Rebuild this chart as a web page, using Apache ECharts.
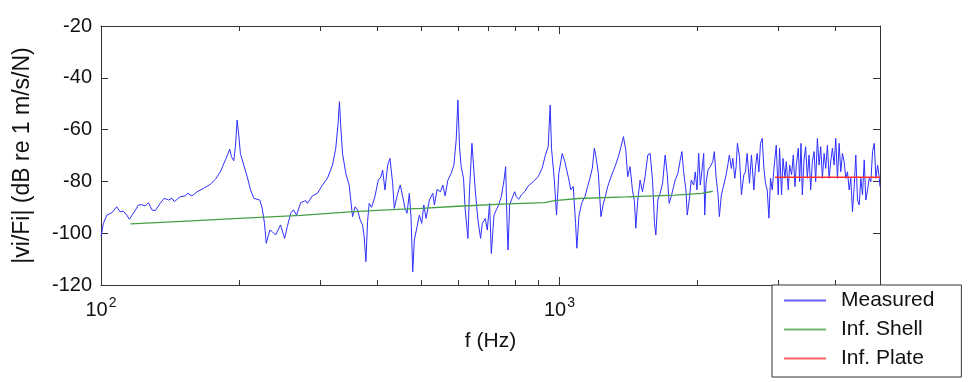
<!DOCTYPE html>
<html><head><meta charset="utf-8">
<script src="https://cdn.jsdelivr.net/npm/echarts@6/dist/echarts.min.js"></script>
<style>html,body{margin:0;padding:0;background:#fff}#c{width:975px;height:382px}</style>
</head><body><div id="c"></div>
<script>
const measuredFreq = [100,101.2,103.0,105.6,108.2,110.0,111.9,113.8,115.3,117.7,120.7,122.8,124.8,126.9,129.1,131.3,134.6,137.4,140.4,142.8,144.5,148.9,152.7,154.5,157.9,162.0,167.4,173.2,177.6,182.1,186.8,190.9,192.5,194.8,196.4,198.1,199.4,201.4,204.8,208.4,211.9,215.4,222.0,224.7,227.3,229.3,231.6,233.5,236.3,240.3,246.4,251.4,254.9,259.2,262.7,267.1,272.6,279.5,281.9,289.1,296.5,304.1,311.8,319.8,325.1,328.9,331.2,333.4,336.3,341.9,347.7,353.7,358.3,362.7,367.5,371.9,375.0,378.2,381.4,384.5,389.2,395.7,402.4,407.9,411.4,416.2,421.9,426.8,432.6,436.1,443.7,449.5,455.0,460.3,465.0,470.4,474.4,478.5,482.4,489.0,494.7,500.7,505.8,511.7,520.3,529.2,533.5,540.8,549.9,556.6,563.1,570.8,580.4,588.3,595.2,600.3,605.2,610.3,617.5,622.8,631.3,636.4,644.2,650.7,655.0,663.9,672.7,678.5,688.8,695.8,703.9,709.9,719.7,728.1,736.6,746.6,756.9,763.0,768.4,772.3,778.5,788.0,798.4,805.2,814.7,825.8,839.6,854.2,875.9,898.3,916.6,931.9,944.7,954.3,960.5,973.7,985.1,996.6,1013.7,1027.1,1044.8,1058.6,1071.5,1084.0,1091.1,1102.1,1117.2,1136.0,1151.5,1164.9,1179.1,1191.1,1200.8,1215.3,1231.3,1246.3,1256.4,1273.6,1299.5,1321.3,1344.1,1361.9,1378.5,1394.5,1408.6,1425.1,1442.4,1457.0,1466.6,1481.4,1498.7,1516.9,1536.9,1558.0,1576.1,1595.3,1611.5,1622.1,1638.5,1657.6,1677.8,1699.9,1717.2,1734.5,1752.1,1773.4,1787.7,1812.2,1833.4,1849.1,1865.0,1886.8,1899.2,1918.4,1937.8,1961.4,1977.3,1994.3,2011.4,2027.7,2045.2,2062.9,2073.3,2086.9,2108.0,2132.7,2158.6,2176.0,2194.8,2217.0,2231.7,2254.2,2281.6,2308.2,2331.6,2347.0,2370.6,2387.5,2411.6,2427.5,2443.4,2468.2,2493.2,2523.5,2543.9,2565.8,2595.8,2622.0,2653.9,2675.4,2698.4,2721.6,2743.7,2767.2,2791.1,2813.6,2837.8,2862.3,2885.5,2910.3,2935.3,2969.5,2999.5,3019.4,3049.9,3071.4,3102.5,3122.9,3154.6,3175.4,3207.5,3235.0,3262.8,3284.3,3317.6,3339.5,3363.0,3385.1,3414.2,3441.9,3471.5,3501.3,3529.8,3560.0,3590.7,3619.7,3650.9,3682.3,3712.2,3744.0,3776.3,3806.8,3839.6,3872.6,3904.1,3937.5,3971.4,4003.5,4037.9,4072.7,4105.7,4141.0,4176.6,4210.4,4246.6,4283.2,4317.9,4354.9,4392.4,4428.0,4466.1,4504.5,4541.1,4580.0,4619.4,4656.8,4696.9,4737.3,4775.8,4816.7,4858.2,4897.5,4939.6,4982.1,5000];
const measuredMag = [-101.3,-96.2,-93.0,-92.1,-89.8,-91.7,-91.5,-93.0,-94.6,-92.3,-89.1,-89.0,-89.5,-88.2,-91.0,-91.3,-88.5,-86.5,-87.2,-86.5,-87.8,-85.9,-85.6,-84.6,-85.6,-84.0,-82.7,-81.1,-79.2,-76.3,-71.7,-67.6,-70.5,-72.0,-66.6,-56.3,-60.8,-69.2,-73.7,-78.2,-83.3,-86.5,-87.2,-90.4,-96.2,-103.9,-104.6,-98.8,-99.4,-100.7,-96.8,-102.0,-97.5,-92.3,-91.0,-93.0,-88.2,-87.4,-88.5,-85.6,-84.6,-81.4,-78.8,-73.7,-67.2,-57.6,-49.2,-58.9,-69.2,-76.9,-81.4,-93.6,-89.8,-91.0,-94.9,-96.8,-101.4,-111.0,-95.5,-88.5,-90.0,-85.9,-79.5,-78.3,-75.6,-83.3,-73.7,-71.1,-80.7,-90.4,-84.6,-81.4,-85.9,-90.4,-92.3,-84.6,-93.6,-114.9,-102.6,-97.5,-93.0,-96.2,-89.1,-94.3,-87.2,-84.6,-89.1,-83.1,-84.0,-81.4,-85.6,-79.5,-76.9,-73.7,-64.0,-48.6,-66.6,-74.3,-78.8,-91.0,-102.0,-83.3,-65.3,-64.7,-83.3,-94.9,-102.0,-96.2,-94.3,-98.8,-88.5,-107.8,-93.0,-91.0,-89.1,-85.9,-79.5,-74.3,-96.2,-106.5,-89.1,-86.5,-84.0,-85.9,-86.9,-85.2,-84.0,-81.8,-80.1,-78.2,-74.9,-69.8,-66.6,-50.5,-67.2,-78.8,-93.0,-76.9,-69.2,-72.4,-78.2,-83.3,-82.0,-96.2,-105.8,-93.6,-88.5,-85.9,-82.0,-78.8,-74.9,-67.2,-70.4,-76.9,-93.6,-88.5,-86.5,-82.0,-77.5,-74.3,-70.4,-66.6,-62.7,-67.8,-78.2,-74.3,-83.3,-87.8,-98.1,-87.2,-79.5,-84.0,-78.2,-69.8,-69.2,-79.5,-96.2,-100.7,-87.2,-84.6,-80.7,-69.8,-76.9,-88.5,-85.9,-82.0,-79.5,-76.9,-71.7,-68.5,-76.3,-83.3,-93.0,-87.2,-79.5,-81.4,-76.3,-83.3,-69.2,-81.4,-75.6,-69.2,-93.0,-80.7,-75.6,-74.3,-72.4,-68.5,-78.2,-85.2,-93.6,-85.2,-81.4,-77.5,-73.0,-69.8,-75.0,-71.1,-78.8,-74.3,-65.3,-70.4,-85.2,-77.5,-76.3,-69.2,-80.7,-69.8,-83.3,-74.3,-69.2,-76.3,-65.3,-63.4,-75.0,-80.7,-83.3,-94.2,-78.8,-83.3,-75.0,-66.0,-85.2,-67.2,-85.2,-71.1,-78.8,-72.4,-83.3,-73.7,-77.5,-69.8,-82.0,-73.7,-67.2,-80.1,-65.3,-85.2,-71.7,-66.6,-78.8,-69.8,-83.3,-72.4,-68.5,-80.1,-63.4,-73.7,-66.6,-78.8,-69.2,-75.0,-66.0,-78.8,-72.4,-67.2,-73.7,-63.4,-78.8,-65.3,-76.3,-69.2,-72.4,-78.8,-76.3,-83.3,-78.8,-91.7,-82.0,-69.8,-87.2,-89.1,-78.8,-85.2,-71.7,-87.2,-83.3,-78.8,-80.1,-68.5,-65.3,-78.8,-73.7,-78.8,-82.0];
const shellFreq = [116,150,200,273,349,420,500,600,747,927,975,1100,1400,1785,1800,2045,2160];
const shellMag = [-96.4,-95.4,-94.3,-93.1,-91.8,-91.0,-90.4,-89.6,-88.8,-88.2,-87.4,-86.6,-86.0,-85.3,-84.9,-84.6,-83.8];
const plateFreq = [2950, 5000];
const plateMag = [-78.4, -78.4];
const xMajorTicks = [100, 1000];
const xMinorTicks = [200,300,400,500,600,700,800,900,2000,3000,4000];
const seriesNames = ['Measured', 'Inf. Shell', 'Inf. Plate'];
const seriesColors = ['#2f2fff', '#45a045', '#ff3030'];

const zip = (a, b) => a.map((v, i) => [v, b[i]]);
const FONT = 'Liberation Sans, Arial, sans-serif';
const AX = '#333';

const baseX = (pos, ticks, len, showLine, labels) => ({
  type: 'log', logBase: 10, min: 100, max: 5000, position: pos,
  axisLine: {show: showLine, lineStyle: {color: AX, width: 1}},
  axisTick: {show: true, inside: true, length: len, customValues: ticks, lineStyle: {color: AX}},
  axisLabel: labels ? {
    show: true, customValues: ticks, margin: 9, color: '#111',
    formatter: v => '{b|10}{s|' + Math.round(Math.log10(v)) + '}',
    rich: {
      b: {fontSize: 20, fontFamily: FONT, color: '#111', verticalAlign: 'bottom', lineHeight: 26},
      s: {fontSize: 14, fontFamily: FONT, color: '#111', verticalAlign: 'bottom', lineHeight: 26, padding: [0, 0, 10, 1]}
    }
  } : {show: false},
  splitLine: {show: false}, minorTick: {show: false}
});

const chart = echarts.init(document.getElementById('c'), null, {renderer: 'canvas'});
const xA = [
  Object.assign(baseX('bottom', xMajorTicks, 8, true, true), {
    name: 'f (Hz)', nameLocation: 'middle', nameGap: 46,
    nameTextStyle: {fontSize: 21, fontFamily: FONT, color: '#111'}
  }),
  baseX('bottom', xMinorTicks, 5, false, false),
  baseX('top', xMajorTicks, 8, true, false),
  baseX('top', xMinorTicks, 5, false, false)
];
const yBase = (pos, labels) => ({
  type: 'value', min: -120, max: -20, interval: 20, position: pos,
  axisLine: {show: true, lineStyle: {color: AX, width: 1}},
  axisTick: {show: true, inside: true, length: 7, lineStyle: {color: AX}},
  axisLabel: {show: labels, margin: 9, fontSize: 20, fontFamily: FONT, color: '#111'},
  splitLine: {show: false}
});
const yA = [
  Object.assign(yBase('left', true), {
    name: '|vi/Fi| (dB re 1 m/s/N)', nameLocation: 'middle', nameGap: 67, nameRotate: 90,
    nameTextStyle: {fontSize: 23, fontFamily: FONT, color: '#111'}
  }),
  yBase('right', false)
];
const data = [zip(measuredFreq, measuredMag), zip(shellFreq, shellMag), zip(plateFreq, plateMag)];
chart.setOption({
  animation: false,
  backgroundColor: '#fff',
  grid: {left: 101, right: 95, top: 26, bottom: 97, containLabel: false},
  xAxis: xA,
  yAxis: yA,
  legend: {
    orient: 'vertical', left: 772, top: 285, z: 10,
    backgroundColor: '#fff', borderColor: '#333', borderWidth: 1, borderRadius: 0,
    padding: [5, 27, 8, 12], itemWidth: 42, itemHeight: 2, itemGap: 8,
    icon: 'rect',
    textStyle: {fontSize: 21, lineHeight: 21, fontFamily: FONT, color: '#111', padding: [0, 0, 0, 10]},
    data: seriesNames.map((n, i) => ({name: n, itemStyle: {color: seriesColors[i], opacity: 0.75}}))
  },
  series: seriesNames.map((n, i) => ({
    name: n, type: 'line', xAxisIndex: 0, yAxisIndex: 0,
    data: data[i], symbol: 'none', showSymbol: false, smooth: false,
    lineStyle: {color: seriesColors[i], width: i === 0 ? 1 : 1.3},
    itemStyle: {color: seriesColors[i]},
    z: i === 0 ? 2 : 3
  }))
});
</script></body></html>
